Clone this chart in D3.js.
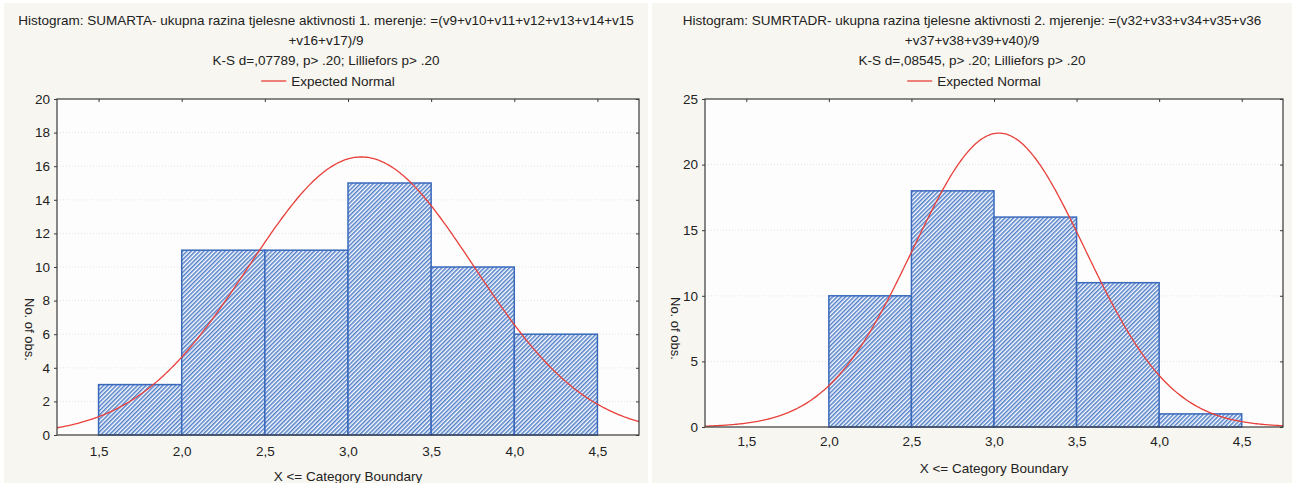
<!DOCTYPE html>
<html>
<head>
<meta charset="utf-8">
<script src="https://cdn.jsdelivr.net/npm/d3@7"></script>
<style>
  body { margin: 0; background: #fff; }
  svg { display: block; font-family: "Liberation Sans", Arial, sans-serif; }
</style>
</head>
<body>
<div id="chart"></div>
<script>
// Width and height
var chart_width = 1292;
var chart_height = 483;
var fs = 13.5;

// shared bins / ticks
var binEdges = [1.5, 2.0, 2.5, 3.0, 3.5, 4.0, 4.5];
var xTicks = [1.5, 2.0, 2.5, 3.0, 3.5, 4.0, 4.5];
var xDomain = [1.25, 4.75];

// panel 1 - SUMARTA
var title1 = ["Histogram: SUMARTA- ukupna razina tjelesne aktivnosti 1. merenje: =(v9+v10+v11+v12+v13+v14+v15",
              "+v16+v17)/9"];
var stats1 = "K-S d=,07789, p> .20; Lilliefors p> .20";
var counts1 = [3, 11, 11, 15, 10, 6];
var yTicks1 = [0, 2, 4, 6, 8, 10, 12, 14, 16, 18, 20];
var normal1 = {mean: 3.08, sd: 0.677, peak: 16.55};

// panel 2 - SUMRTADR
var title2 = ["Histogram: SUMRTADR- ukupna razina tjelesne aktivnosti 2. mjerenje: =(v32+v33+v34+v35+v36",
              "+v37+v38+v39+v40)/9"];
var stats2 = "K-S d=,08545, p> .20; Lilliefors p> .20";
var counts2 = [0, 10, 18, 16, 11, 1];
var yTicks2 = [0, 5, 10, 15, 20, 25];
var normal2 = {mean: 3.03, sd: 0.52, peak: 22.4};

var svg = d3.select("#chart").append("svg")
  .attr("width", chart_width)
  .attr("height", chart_height);

// hatch fill for bars
var pat = svg.append("defs").append("pattern")
  .attr("id", "hatch")
  .attr("patternUnits", "userSpaceOnUse")
  .attr("width", 3).attr("height", 3)
  .attr("patternTransform", "rotate(45)");
pat.append("rect").attr("width", 3).attr("height", 3).attr("fill", "#ffffff");
pat.append("line").attr("x1", 0.8).attr("y1", 0).attr("x2", 0.8).attr("y2", 3)
  .attr("stroke", "#3f72c4").attr("stroke-width", 1.4);

var fmt = function(d) { return d3.format(".1f")(d).replace(".", ","); };

function drawPanel(p) {
  var g = svg.append("g");

  // panel background
  g.append("rect")
    .attr("x", p.panel[0]).attr("y", 3)
    .attr("width", p.panel[1] - p.panel[0]).attr("height", chart_height - 3)
    .attr("fill", "#f8f6f0");

  var x = d3.scaleLinear().domain(xDomain).range([p.left, p.right]);
  var y = d3.scaleLinear().domain([0, p.yMax]).range([p.bottom, p.top]);
  var cx = (p.panel[0] + p.panel[1]) / 2;

  // titles
  var t = g.append("g").attr("font-size", fs).attr("fill", "#222").attr("text-anchor", "middle");
  p.title.forEach(function(line, i) {
    t.append("text").attr("x", cx).attr("y", 25 + i * 20).text(line);
  });
  t.append("text").attr("x", cx).attr("y", 65).text(p.stats);

  // legend
  var lw = 25, gap = 5;
  var leg = g.append("g");
  var legText = leg.append("text").attr("x", 0).attr("y", 86)
    .attr("font-size", fs).attr("fill", "#222").text("Expected Normal");
  var tw = legText.node().getComputedTextLength();
  var lx = cx + 2 - (lw + gap + tw) / 2;
  legText.attr("x", lx + lw + gap);
  leg.append("line").attr("x1", lx).attr("x2", lx + lw).attr("y1", 81).attr("y2", 81)
    .attr("stroke", "#e8403a").attr("stroke-width", 1.3);

  // plot area
  g.append("rect")
    .attr("x", p.left).attr("y", p.top)
    .attr("width", p.right - p.left).attr("height", p.bottom - p.top)
    .attr("fill", "#fdfdfd");

  // grid
  g.selectAll(".grid").data(p.yTicks.slice(1, -1)).enter().append("line")
    .attr("x1", p.left).attr("x2", p.right)
    .attr("y1", function(d) { return y(d); }).attr("y2", function(d) { return y(d); })
    .attr("stroke", "#e4e4e4").attr("stroke-dasharray", "1,2");

  // bars
  var bins = p.counts.map(function(c, i) { return {x0: binEdges[i], x1: binEdges[i + 1], n: c}; })
    .filter(function(d) { return d.n > 0; });
  g.selectAll(".bar").data(bins).enter().append("rect")
    .attr("x", function(d) { return x(d.x0); })
    .attr("y", function(d) { return y(d.n); })
    .attr("width", function(d) { return x(d.x1) - x(d.x0); })
    .attr("height", function(d) { return y(0) - y(d.n); })
    .attr("fill", "url(#hatch)")
    .attr("stroke", "#3a69bc")
    .attr("stroke-width", 1.5);

  // expected normal
  var nm = p.normal;
  var pts = d3.range(xDomain[0], xDomain[1] + 0.001, 0.01).map(function(v) {
    var z = (v - nm.mean) / nm.sd;
    return [v, nm.peak * Math.exp(-0.5 * z * z)];
  });
  g.append("path").datum(pts)
    .attr("d", d3.line().x(function(d) { return x(d[0]); }).y(function(d) { return y(d[1]); }))
    .attr("fill", "none").attr("stroke", "#e8403a").attr("stroke-width", 1.3);

  // frame
  g.append("rect")
    .attr("x", p.left).attr("y", p.top)
    .attr("width", p.right - p.left).attr("height", p.bottom - p.top)
    .attr("fill", "none").attr("stroke", "#3a3a3a").attr("stroke-width", 1.2);

  // axes
  var yAxis = g.append("g").attr("transform", "translate(" + p.left + ",0)")
    .call(d3.axisLeft(y).tickValues(p.yTicks).tickSize(3).tickPadding(4));
  var yAxisR = g.append("g").attr("transform", "translate(" + p.right + ",0)")
    .call(d3.axisLeft(y).tickValues(p.yTicks).tickSize(3).tickFormat(""));
  var xAxis = g.append("g").attr("transform", "translate(0," + p.bottom + ")")
    .call(d3.axisBottom(x).tickValues(xTicks).tickFormat(fmt).tickSize(0).tickPadding(p.xPad));
  var xAxisT = g.append("g").attr("transform", "translate(0," + p.top + ")")
    .call(d3.axisBottom(x).tickValues(xTicks).tickSize(3).tickFormat(""));
  [yAxis, yAxisR, xAxis, xAxisT].forEach(function(a) {
    a.select(".domain").remove();
    a.selectAll("line").attr("stroke", "#3a3a3a");
    a.selectAll("text").attr("font-size", fs).attr("fill", "#222")
      .attr("font-family", "'Liberation Sans', Arial, sans-serif");
  });

  // axis titles
  g.append("text")
    .attr("transform", "translate(" + p.yTitleX + "," + p.yTitleY + ") rotate(90)")
    .attr("font-size", 13).attr("fill", "#222").text("No. of obs.");
  g.append("text")
    .attr("x", (p.left + p.right) / 2).attr("y", p.xTitleY)
    .attr("text-anchor", "middle").attr("font-size", fs).attr("fill", "#222")
    .text("X <= Category Boundary");
}

drawPanel({panel: [4, 648], left: 57, right: 639, top: 99, bottom: 435, yMax: 20,
  title: title1, stats: stats1, counts: counts1, yTicks: yTicks1, normal: normal1,
  xPad: 11, yTitleX: 25, yTitleY: 298, xTitleY: 481});
drawPanel({panel: [652, 1292], left: 705, right: 1283, top: 99, bottom: 427, yMax: 25,
  title: title2, stats: stats2, counts: counts2, yTicks: yTicks2, normal: normal2,
  xPad: 9, yTitleX: 671, yTitleY: 297, xTitleY: 473});
</script>
</body>
</html>
